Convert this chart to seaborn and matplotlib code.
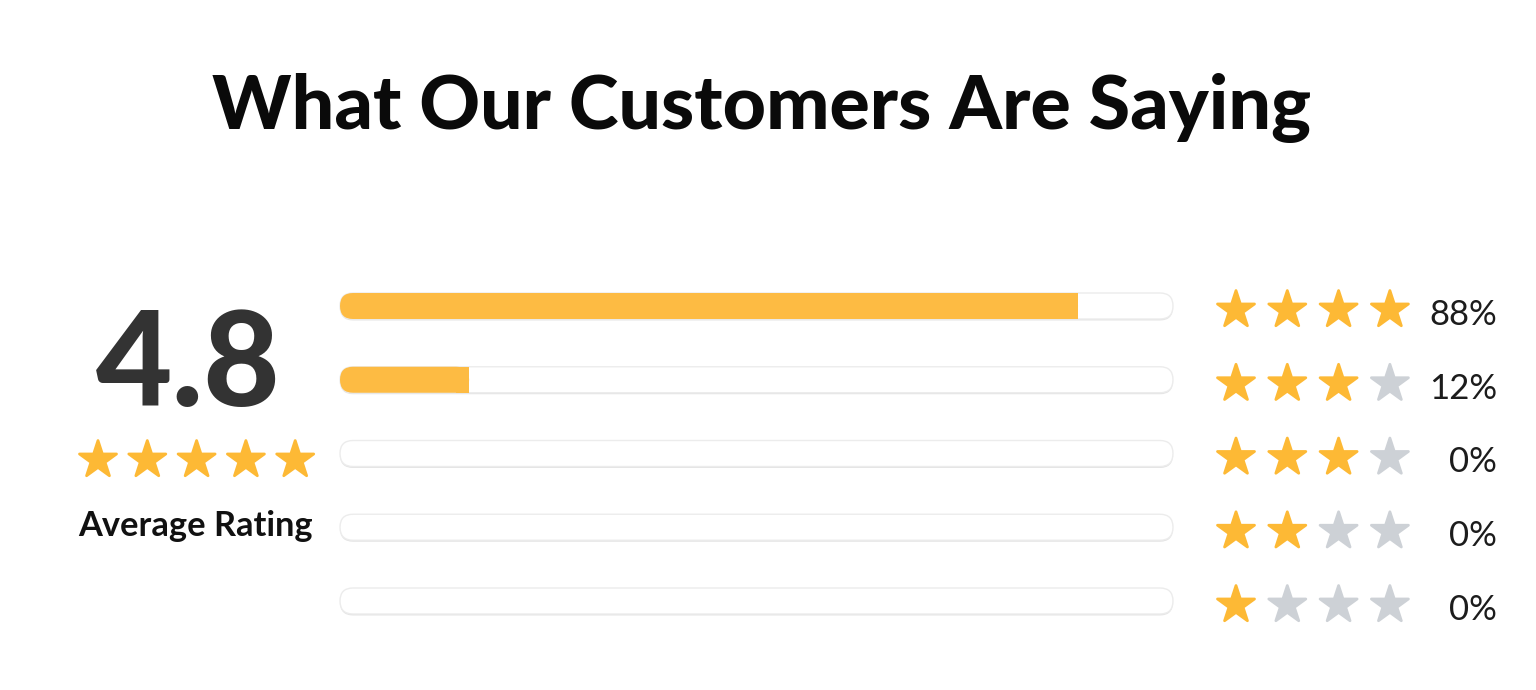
import numpy as np
import pandas as pd
import matplotlib
matplotlib.use("Agg")
import matplotlib.pyplot as plt
import seaborn as sns
from matplotlib.patches import FancyBboxPatch, Rectangle

# ---------------- data ----------------
title = "What Our Customers Are Saying"
average_rating = 4.8
average_label = "Average Rating"
summary_gold_stars = 5
row_names = ["row1", "row2", "row3", "row4", "row5"]
bar_fill = [88.6, 15.5, 0, 0, 0]          # filled length as drawn in the picture
share_labels = ["88%", "12%", "0%", "0%", "0%"]
gold_stars = [4, 3, 3, 2, 1]
stars_per_row = 4

# ---------------- style ----------------
W, H = 1536, 690
GOLD_BAR = "#FDBB43"
GOLD_STAR = "#FDB935"
GREY_STAR = "#CDD1D6"
sns.set_theme(style="white")
plt.rcParams["font.family"] = ["Lato", "DejaVu Sans"]

fig = plt.figure(figsize=(W / 100, H / 100), dpi=100)
fig.patch.set_facecolor("white")


def fx(px):
    return px / W


def fy(py):
    return 1 - py / H


row_first, row_step = 306.0, 73.75
bar_h_px = 26.0
track_left, track_right = 340.0, 1173.0
ax_top = row_first - row_step / 2
ax_bot = row_first + row_step * 4.5
ax = fig.add_axes([fx(track_left), fy(ax_bot), (track_right - track_left) / W,
                   (ax_bot - ax_top) / H])

df = pd.DataFrame({"row": row_names, "fill": bar_fill, "track": [100] * len(bar_fill)})
sns.barplot(data=df, x="track", y="row", orient="h", color="white",
            width=bar_h_px / row_step, ax=ax)
n_track = len(ax.patches)
sns.barplot(data=df, x="fill", y="row", orient="h", color=GOLD_BAR,
            width=bar_h_px / row_step, ax=ax)
ax.set_xlim(0, 100)
ax.set_ylim(len(bar_fill) - 0.5, -0.5)
ax.set_axis_off()

px_x = (track_right - track_left) / 100.0
px_y = row_step
r_px = bar_h_px / 2
rx, ry = r_px / px_x, r_px / px_y

patches = list(ax.patches)
for i, p in enumerate(patches):
    x0, y0, w, h = p.get_x(), p.get_y(), p.get_width(), p.get_height()
    p.remove()
    if w <= 0:
        continue
    if i < n_track:
        sh = FancyBboxPatch((x0, y0 + 1.5 / px_y), w, h,
                            boxstyle=f"round,pad=0,rounding_size={rx}",
                            mutation_aspect=ry / rx, facecolor="#e4e4e4",
                            edgecolor="none", zorder=1, clip_on=False)
        ax.add_patch(sh)
        tb = FancyBboxPatch((x0, y0), w, h,
                            boxstyle=f"round,pad=0,rounding_size={rx}",
                            mutation_aspect=ry / rx, facecolor="white",
                            edgecolor="#ececec", linewidth=1.0, zorder=2,
                            clip_on=False)
        ax.add_patch(tb)
    else:
        fb = FancyBboxPatch((x0, y0), w, h,
                            boxstyle=f"round,pad=0,rounding_size={rx}",
                            mutation_aspect=ry / rx, facecolor=GOLD_BAR,
                            edgecolor="none", zorder=3, clip_on=False)
        ax.add_patch(fb)
        ax.add_patch(Rectangle((x0 + w - rx, y0), rx, h, facecolor=GOLD_BAR,
                               edgecolor="none", zorder=3, clip_on=False))

# ---------------- star rows ----------------
star_first, star_step = 1236.0, 51.3
sax_left = 1200.0
sax = fig.add_axes([fx(sax_left), fy(ax_bot), (W - sax_left) / W, (ax_bot - ax_top) / H])
xa = -(star_first - sax_left) / star_step

star_df = pd.DataFrame([
    {"slot": j, "row": i + 4 / row_step, "filled": j < g}
    for i, g in enumerate(gold_stars) for j in range(stars_per_row)
])
sns.scatterplot(data=star_df, x="slot", y="row", hue="filled",
                palette={True: GOLD_STAR, False: GREY_STAR}, marker="*",
                s=28 ** 2, edgecolor="face", linewidth=2.0, legend=False, ax=sax)
for c in sax.collections:
    c.set_joinstyle("round")
    c.set_clip_on(False)
sax.set_xlim(xa, xa + (W - sax_left) / star_step)
sax.set_ylim(len(bar_fill) - 0.5, -0.5)
sax.set_axis_off()

renderer = fig.canvas.get_renderer()

pct_right = (1497 - star_first) / star_step
for i, lab in enumerate(share_labels):
    sax.text(pct_right, i + 19 / row_step, lab, ha="right", va="baseline",
             fontsize=25, color="#1c1c1c", fontweight="normal")

# ---------------- summary ----------------
lstar_first, lstar_step = 98.0, 49.3
lax_left, lax_right = 60.0, 340.0
lax = fig.add_axes([fx(lax_left), fy(490), (lax_right - lax_left) / W, 60 / H])
lxa = -(lstar_first - lax_left) / lstar_step
sum_df = pd.DataFrame({"slot": np.arange(5), "y": np.zeros(5),
                       "filled": np.arange(5) < summary_gold_stars})
sns.scatterplot(data=sum_df, x="slot", y="y", hue="filled",
                palette={True: GOLD_STAR, False: GREY_STAR}, marker="*",
                s=28 ** 2, edgecolor="face", linewidth=2.0, legend=False, ax=lax)
for c in lax.collections:
    c.set_joinstyle("round")
    c.set_clip_on(False)
lax.set_xlim(lxa, lxa + (lax_right - lax_left) / lstar_step)
lax.set_ylim(0.5, -0.5)
lax.set_axis_off()


# ---------------- texts (fitted to widths) ----------------
def fit_text(x_px, base_px, s, target_w, size, **kw):
    t = fig.text(fx(x_px), fy(base_px), s, ha="center", va="baseline",
                 fontsize=size, **kw)
    bb = t.get_window_extent(renderer)
    t.set_fontsize(size * target_w / bb.width)
    return t


fit_text(762, 129, title, 1099, 55, fontweight="black", color="#0a0a0a")
fit_text(188, 406, f"{average_rating:.1f}", 185, 95, fontweight="black", color="#333333")
fit_text(195, 536, average_label, 234, 22, fontweight="bold", color="#111111")

fig.savefig("out.png", dpi=100, facecolor="white")
